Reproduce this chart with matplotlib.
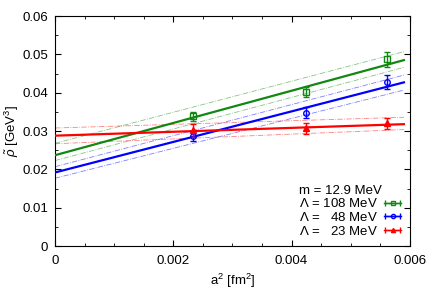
import numpy as np
import matplotlib
matplotlib.use("Agg")
import matplotlib.pyplot as plt
from matplotlib.legend_handler import HandlerErrorbar
from matplotlib.container import ErrorbarContainer

# data points (a^2 in fm^2, rho in GeV^3)
a2 = [0.00233, 0.00425, 0.00561]
rho_108 = [0.0338, 0.0403, 0.0487]
err_108 = [0.0012, 0.0013, 0.0020]
rho_48 = [0.0287, 0.0348, 0.0428]
err_48 = [0.0012, 0.0014, 0.0017]
rho_23 = [0.0302, 0.0307, 0.0320]
err_23 = [0.0017, 0.0015, 0.0015]

# linear fits: value at a^2=0 and at a^2=0.0059 (central, upper, lower)
fit_x = [0.0, 0.0059]
fit_108 = [[0.0237, 0.0485], [0.0268, 0.0507], [0.0223, 0.0466]]
fit_48 = [[0.0192, 0.0427], [0.0207, 0.0446], [0.0177, 0.0407]]
fit_23 = [[0.0288, 0.0318], [0.0308, 0.0336], [0.0267, 0.0304]]

labels = [r"$\Lambda$ = 108 MeV", r"$\Lambda$ =   48 MeV", r"$\Lambda$ =   23 MeV"]

plt.rcParams['font.family'] = ['Liberation Sans', 'DejaVu Sans']
plt.rcParams['mathtext.fontset'] = 'custom'
plt.rcParams['mathtext.rm'] = 'Liberation Sans'
plt.rcParams['mathtext.it'] = 'Liberation Sans:italic'

fs = 9.5

fig, ax = plt.subplots(figsize=(4.36, 3.05), dpi=100)
fig.subplots_adjust(left=0.126, right=0.94, top=0.9475, bottom=0.193)

series = [
    (rho_108, err_108, fit_108, '#118811', 's', 'none'),
    (rho_48, err_48, fit_48, '#0000ff', 'o', 'none'),
    (rho_23, err_23, fit_23, '#ff0000', '^', None),
]

handles = []
for (rho, err, fit, col, mk, mfc), lab in zip(series, labels):
    ax.plot(fit_x, fit[0], color=col, lw=1.6, zorder=3)
    for band in fit[1:]:
        ax.plot(fit_x, band, color=col, lw=0.6, ls='-.', alpha=0.5, zorder=2)
    ax.errorbar(a2, rho, yerr=err, fmt=mk, color=col, mfc=mfc if mfc else col,
                mec=col, ms=4, capsize=2, elinewidth=1, capthick=1, zorder=4)
    # proxy for legend with horizontal error bar
    h = ax.errorbar([np.nan], [np.nan], xerr=[0.0], fmt=mk + '-', color=col,
                    mfc=mfc if mfc else col, mec=col, ms=3, capsize=2, lw=1, label=lab)
    handles.append(h)

ax.set_xlim(0, 0.006)
ax.set_ylim(0, 0.06)
ax.set_xticks([0, 0.002, 0.004, 0.006])
ax.set_xticklabels(['0', '0.002', '0.004', '0.006'])
ax.set_yticks([0, 0.01, 0.02, 0.03, 0.04, 0.05, 0.06])
ax.set_yticklabels(['0', '0.01', '0.02', '0.03', '0.04', '0.05', '0.06'])
ax.set_xticks(np.arange(0, 0.0061, 0.0005), minor=True)
ax.set_yticks(np.arange(0, 0.061, 0.005), minor=True)
ax.tick_params(which='both', direction='in', top=True, right=True, labelsize=fs)
ax.tick_params(axis='x', which='major', pad=6.5)
ax.tick_params(axis='y', which='major', pad=5)
ax.tick_params(which='major', length=4)
ax.tick_params(which='minor', length=2)
for s in ax.spines.values():
    s.set_linewidth(0.8)

ax.set_xlabel(r"a$^2$ [fm$^2$]", fontsize=fs, labelpad=3)
ax.set_ylabel(r"$\tilde{\rho}$ [GeV$^3$]", fontsize=fs)
ax.yaxis.set_label_coords(-0.097, 0.5)

leg = ax.legend(handles=handles, loc='lower right', frameon=False, fontsize=fs,
                markerfirst=False, title="m = 12.9 MeV", title_fontsize=fs,
                alignment='left', handlelength=1.3, handletextpad=0.5,
                labelspacing=0.05, borderaxespad=0.25,
                handler_map={ErrorbarContainer: HandlerErrorbar(xerr_size=0.55)})

fig.savefig("out.png", dpi=100)
